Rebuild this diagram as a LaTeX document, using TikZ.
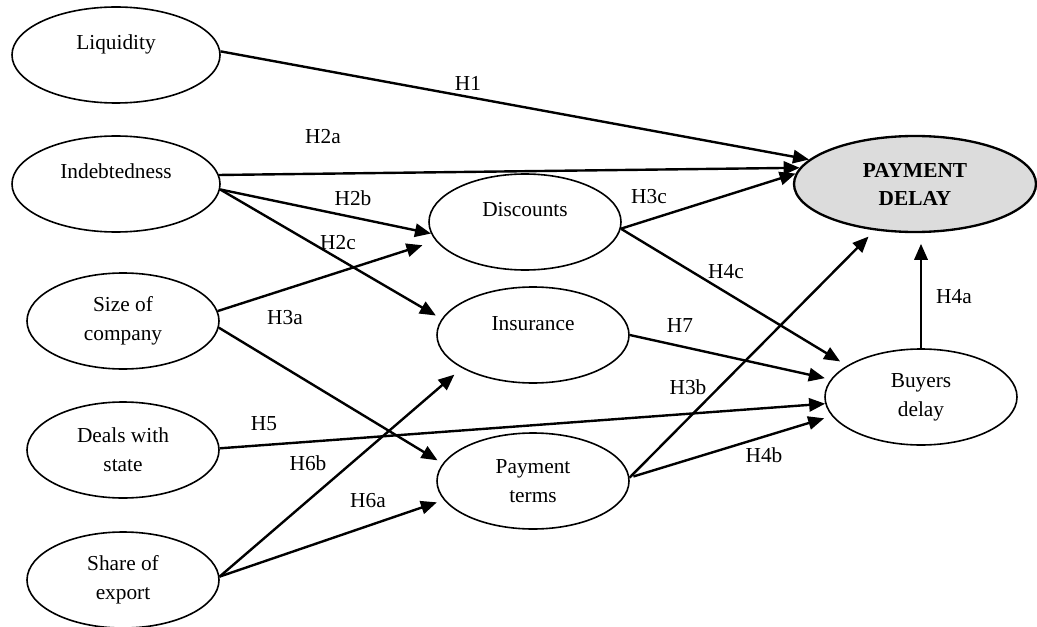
\documentclass[tikz,border=0pt]{standalone}
\usepackage{fontspec}
\setmainfont{Liberation Serif}
\usetikzlibrary{arrows.meta,shapes.geometric}
\definecolor{delaygray}{RGB}{220,220,220}

\begin{document}
\begin{tikzpicture}[x=0.75pt,y=-0.75pt,
        var/.style={ellipse, draw, line width=1.2pt, inner sep=0pt, minimum width=144pt, minimum height=72pt, align=center, font=\fontsize{16}{21.5}\selectfont},
        upper/.style={text height=11pt, text depth=18.5pt},
        hyparrow/.style={line width=1.8pt, -{Triangle[length=12pt,width=10pt]}},
        hyp/.style={inner sep=0pt, font=\fontsize{16}{19}\selectfont}]

        \useasboundingbox (0,0) rectangle (1037,627);

        % determinants
        \node[var, minimum width=156pt, upper] (liq) at (116,55) {Liquidity};
        \node[var, minimum width=156pt, upper] (ind) at (116,184) {Indebtedness};
        \node[var] (size) at (123,321) {Size of\\company};
        \node[var] (deals) at (123,450) {Deals with\\state};
        \node[var] (share) at (123,580) {Share of\\export};

        % mediators
        \node[var, upper] (disc) at (525,222) {Discounts};
        \node[var, upper] (ins) at (533,335) {Insurance};
        \node[var] (terms) at (533,481) {Payment\\terms};

        \node[var, minimum width=181.5pt, line width=1.75pt, fill=delaygray, font=\bfseries\fontsize{16}{21}\selectfont] (pd) at (915,184) {PAYMENT\\DELAY};
        \node[var] (buyers) at (921,397) {Buyers\\delay};

        % hypotheses
        \draw[hyparrow] (liq.2) -- (pd.167);
        \draw[hyparrow] (ind.5) -- (pd.172);
        \draw[hyparrow] (ind.-3) -- (disc.187);
        \draw[hyparrow, shorten >=5pt] (ind.-3) -- (ins.170);
        \draw[hyparrow, shorten >=10.5pt] (size.6) -- (disc.192);
        \draw[hyparrow, shorten >=4.5pt] (size.-4) -- (terms.169);
        \draw[hyparrow] (deals.1) -- (buyers.184);
        \draw[hyparrow, shorten >=7.5pt] (share.2) -- (ins.205);
        \draw[hyparrow, shorten >=5.5pt] (share.2) -- (terms.192);

        \draw[hyparrow] (disc.-4) -- (pd.175);
        \draw[hyparrow, shorten >=6pt] (disc.-4) -- (buyers.157);
        \draw[hyparrow, shorten >=4.5pt] (ins.0) -- (buyers.169);
        \draw[hyparrow, shorten <=3pt, shorten >=6pt] (terms.2) -- (buyers.192);
        \draw[hyparrow, shorten >=6.5pt] (terms.2) -- (pd.229);
        \draw[hyparrow, shorten >=8pt] (buyers.north) -- (buyers.north |- pd.south);

        \node[hyp] (h1) at (468,83) {H1};
        \node[hyp] (h2a) at (323,137) {H2a};
        \node[hyp] (h2b) at (353,198) {H2b};
        \node[hyp] (h2c) at (338,243) {H2c};
        \node[hyp] (h3a) at (285,318) {H3a};
        \node[hyp] (h5) at (264,424) {H5};
        \node[hyp] (h6b) at (308,463) {H6b};
        \node[hyp] (h6a) at (368,501) {H6a};
        \node[hyp] (h3c) at (649,197) {H3c};
        \node[hyp] (h4c) at (726,272) {H4c};
        \node[hyp] (h7) at (680,326) {H7};
        \node[hyp] (h3b) at (688,387) {H3b};
        \node[hyp] (h4b) at (764,455) {H4b};
        \node[hyp] (h4a) at (954,297) {H4a};

\end{tikzpicture}
\end{document}
